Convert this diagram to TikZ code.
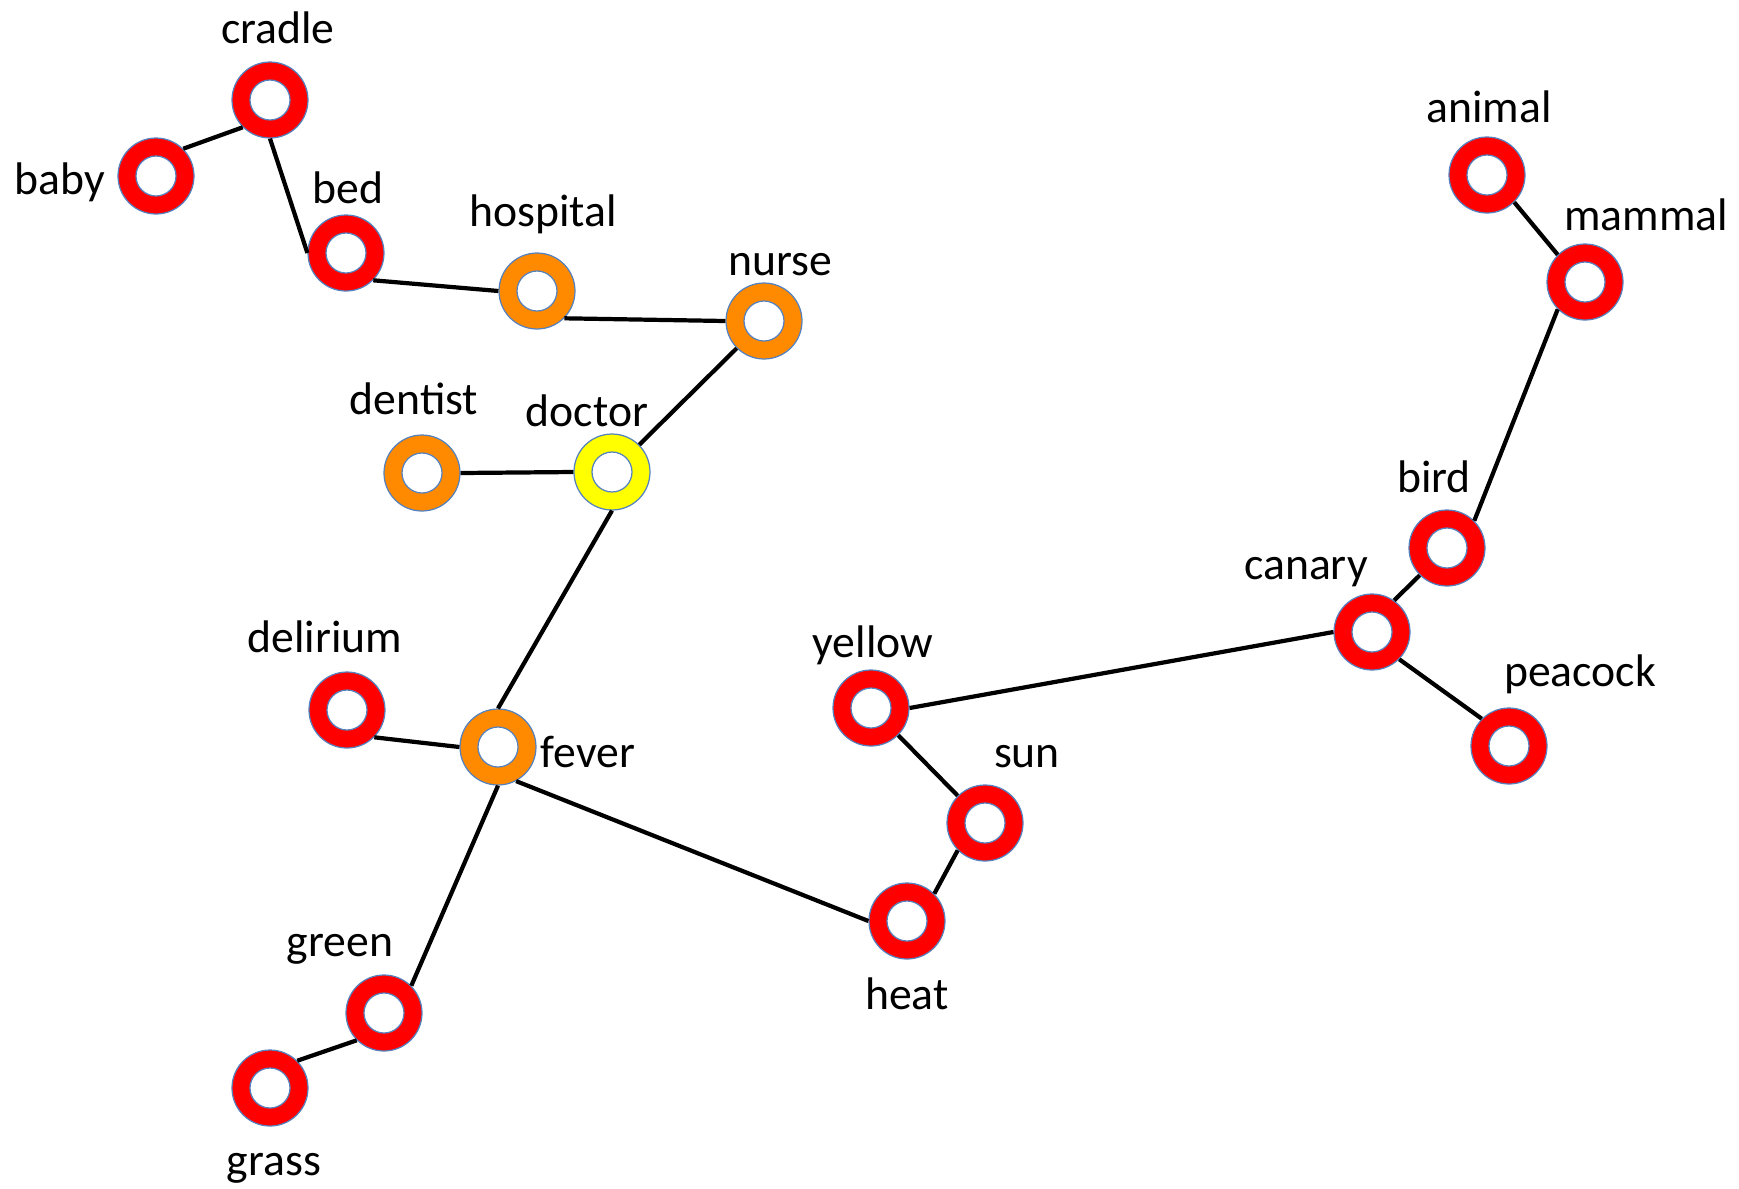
\documentclass[tikz,border=0pt]{standalone}
\usepackage{fontspec}
\setmainfont{Carlito}
\usepackage{tikz}
\usetikzlibrary{positioning, calc}
\definecolor{ringred}{RGB}{255,0,0}
\definecolor{ringorange}{RGB}{255,138,0}
\definecolor{ringyellow}{RGB}{255,255,0}
\definecolor{rimblue}{RGB}{85,130,190}
\tikzset{
    ring/.style={circle, minimum size=1.52cm, inner sep=0pt,
      draw=rimblue, line width=0.7pt, fill=#1,
      path picture={\draw[rimblue, line width=0.7pt, fill=white]
        (path picture bounding box.center) circle (0.4cm);}},
    ring/.default=ringred,
    word/.style={font=\fontsize{26}{30}\selectfont, anchor=base, inner sep=0pt},
    link/.style={draw=black, line width=2.4pt},
}
\begin{document}
\begin{tikzpicture}[x=0.02cm, y=-0.02cm]
    \useasboundingbox (0,0) rectangle (1739,1188);

    % concept rings
    \node[ring] (cradle) at (270,100) {};
    \node[ring] (baby) at (156,176) {};
    \node[ring] (bed) at (346,253) {};
    \node[ring=ringorange] (hospital) at (537,291) {};
    \node[ring=ringorange] (nurse) at (764,321) {};
    \node[ring=ringorange] (dentist) at (422,473) {};
    \node[ring=ringyellow] (doctor) at (612,472) {};
    \node[ring] (delirium) at (347,710) {};
    \node[ring=ringorange] (fever) at (498,747) {};
    \node[ring] (green) at (384,1013) {};
    \node[ring] (grass) at (270,1088) {};
    \node[ring] (yellow) at (871,708) {};
    \node[ring] (sun) at (985,823) {};
    \node[ring] (heat) at (907,921) {};
    \node[ring] (canary) at (1372,632) {};
    \node[ring] (bird) at (1447,548) {};
    \node[ring] (peacock) at (1509,746) {};
    \node[ring] (animal) at (1487,175) {};
    \node[ring] (mammal) at (1585,282) {};

    % words
    \node[word] (cradle-w) at (278,43) {cradle};
    \node[word] (baby-w) at (60,194) {baby};
    \node[word] (bed-w) at (348,203) {bed};
    \node[word] (hospital-w) at (543,226) {hospital};
    \node[word] (nurse-w) at (780,275) {nurse};
    \node[word] (dentist-w) at (414,414) {dentist};
    \node[word] (doctor-w) at (587,426) {doctor};
    \node[word] (delirium-w) at (325,652) {delirium};
    \node[word] (fever-w) at (588,767) {fever};
    \node[word] (green-w) at (340,956) {green};
    \node[word] (grass-w) at (274,1175) {grass};
    \node[word] (yellow-w) at (873,657) {yellow};
    \node[word] (sun-w) at (1027,767) {sun};
    \node[word] (heat-w) at (907,1009) {heat};
    \node[word] (canary-w) at (1306,579) {canary};
    \node[word] (bird-w) at (1434,492) {bird};
    \node[word] (peacock-w) at (1580,686) {peacock};
    \node[word] (animal-w) at (1489,122) {animal};
    \node[word] (mammal-w) at (1646,230) {mammal};

    % associations
    \draw[link] (cradle.south west) edge (baby.north east);
    \draw[link] (cradle.south) edge (bed.west);
    \draw[link] (bed.south east) edge (hospital.west);
    \draw[link] (hospital.south east) edge (nurse.west);
    \draw[link] (nurse.south west) edge (doctor.north east);
    \draw[link] (dentist.east) edge (doctor.west);
    \draw[link] (doctor.south) edge (fever.north);
    \draw[link] (delirium.south east) edge (fever.west);
    \draw[link] (fever.south) edge (green.north east);
    \draw[link] (green.south west) edge (grass.north east);
    \draw[link] (fever.-62) edge (heat.west);
    \draw[link] (heat.north east) edge (sun.south west);
    \draw[link] (sun.north west) edge (yellow.south east);
    \draw[link] (yellow.east) edge (canary.west);
    \draw[link] (canary.55) edge (bird.south west);
    \draw[link] (canary.south east) edge (peacock.north west);
    \draw[link] (bird.north east) edge (mammal.south west);
    \draw[link] (mammal.north west) edge (animal.south east);
\end{tikzpicture}
\end{document}
